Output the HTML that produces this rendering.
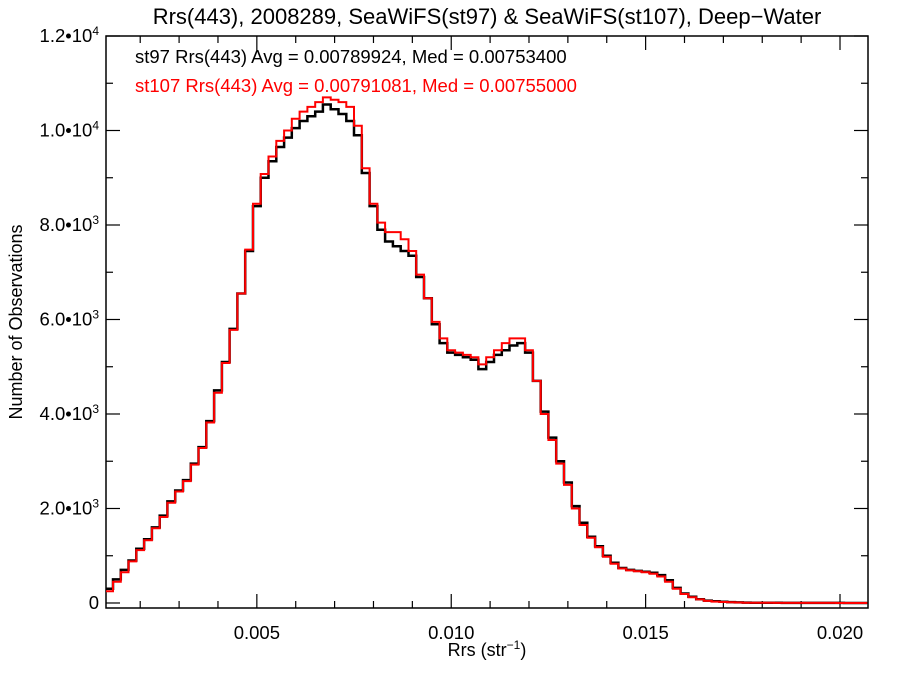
<!DOCTYPE html>
<html><head><meta charset="utf-8"><style>
body{margin:0;background:#fff}
svg{display:block;font-family:"Liberation Sans",sans-serif}
</style></head><body>
<svg id="chart" width="900" height="675">
<text x="487" y="24" font-size="22" text-anchor="middle">Rrs(443), 2008289, SeaWiFS(st97) &amp; SeaWiFS(st107), Deep−Water</text>
<text x="135" y="63" font-size="18.5">st97 Rrs(443) Avg = 0.00789924, Med = 0.00753400</text>
<text x="135" y="92" font-size="18.5" fill="#ff0000">st107 Rrs(443) Avg = 0.00791081, Med = 0.00755000</text>
<text x="487" y="656" font-size="18" text-anchor="middle">Rrs (str<tspan font-size="12" dy="-7">−1</tspan><tspan dy="7">)</tspan></text>
<text transform="translate(22,322) rotate(-90)" font-size="18" text-anchor="middle">Number of Observations</text>
<g id="axes"></g>
<g id="series"></g>
</svg>
<script>
const binStart = 0.0011;
const binWidth = 0.0002;
const st97 = [300,500,700,900,1150,1350,1600,1850,2150,2380,2600,2950,3300,3850,4500,5100,5800,6550,7450,8400,9000,9350,9650,9850,10050,10200,10300,10400,10550,10450,10350,10200,9900,9100,8400,7900,7650,7550,7450,7350,6900,6450,5900,5500,5300,5250,5200,5150,4950,5100,5250,5350,5450,5500,5300,4700,4050,3500,3000,2550,2050,1700,1400,1200,1000,850,740,700,680,660,640,590,480,320,200,130,80,50,35,25,18,12,8,6,4,3,3,2,2,2,1,1,1,1,1,0,0,0];
const st107 = [250,450,650,880,1120,1330,1580,1820,2120,2360,2580,2930,3280,3820,4450,5080,5780,6550,7480,8450,9080,9450,9780,10000,10250,10400,10500,10600,10700,10650,10600,10500,10100,9200,8450,8050,7850,7850,7700,7450,6950,6450,5950,5600,5350,5300,5250,5200,5050,5200,5350,5500,5600,5600,5350,4700,4000,3450,2950,2500,2000,1650,1380,1180,980,830,730,690,670,650,620,560,450,300,190,120,75,45,30,20,15,10,7,5,3,3,2,2,2,1,1,1,1,1,0,0,0,0];
const xTicks = [0.005,0.010,0.015,0.020];
const xTickLabels = ["0.005","0.010","0.015","0.020"];
const yTicks = [0,2000,4000,6000,8000,10000,12000];
const yTickLabels = ["0","2.0•10<tspan font-size='12' dy='-7'>3</tspan>","4.0•10<tspan font-size='12' dy='-7'>3</tspan>","6.0•10<tspan font-size='12' dy='-7'>3</tspan>","8.0•10<tspan font-size='12' dy='-7'>3</tspan>","1.0•10<tspan font-size='12' dy='-7'>4</tspan>","1.2•10<tspan font-size='12' dy='-7'>4</tspan>"];

const L=106,R=868,T=36,B=608;
const xMin=0.00112,xMax=0.02072;
const yMin=-106,yMax=12000;
const sx=v=>L+(v-xMin)/(xMax-xMin)*(R-L);
const sy=v=>B-(v-yMin)/(yMax-yMin)*(B-T);
const NS="http://www.w3.org/2000/svg";
const axes=document.getElementById('axes');
function mk(tag,attrs,parent){const e=document.createElementNS(NS,tag);for(const k in attrs)e.setAttribute(k,attrs[k]);parent.appendChild(e);return e;}
const frame=mk('rect',{x:L,y:T,width:R-L,height:B-T,fill:'none',stroke:'#000','stroke-width':1.5},axes);


for(let m=0.002;m<=0.0205;m+=0.001){
  const major=xTicks.some(t=>Math.abs(t-m)<1e-6);
  const len=major?14:7;const x=sx(m);
  const t1=mk('line',{x1:x,x2:x,y1:B,y2:B-len,stroke:'#000','stroke-width':1.2},axes);
  
  
  const t2=mk('line',{x1:x,x2:x,y1:T,y2:T+len,stroke:'#000','stroke-width':1.2},axes);
  
  
}
xTicks.forEach((t,i)=>{
  const tx=mk('text',{x:sx(t),y:639,'font-size':18.5,'text-anchor':'middle'},axes);
  tx.textContent=xTickLabels[i];
  
  
});
for(let m=0;m<=12000;m+=1000){
  const major=m%2000===0;const len=major?14:7;const y=sy(m);
  const t1=mk('line',{x1:L,x2:L+len,y1:y,y2:y,stroke:'#000','stroke-width':1.2},axes);
  
  
  const t2=mk('line',{x1:R,x2:R-len,y1:y,y2:y,stroke:'#000','stroke-width':1.2},axes);
  
  
}
yTicks.forEach((t,i)=>{
  const tx=mk('text',{x:99,y:sy(t)+6,'font-size':18.5,'text-anchor':'end'},axes);
  tx.innerHTML=yTickLabels[i];
  
  
});
const series=document.getElementById('series');
function stepPath(vals){
  let d='';
  vals.forEach((v,i)=>{
    const x0=sx(Math.max(binStart+i*binWidth,xMin)),x1=sx(Math.min(binStart+(i+1)*binWidth,xMax));const y=sy(v);
    d+=(i===0?'M':'L')+x0.toFixed(1)+','+y.toFixed(1)+'L'+x1.toFixed(1)+','+y.toFixed(1);
  });
  return d;
}
const p1=mk('path',{d:stepPath(st97),fill:'none',stroke:'#000','stroke-width':2.5},series);


const p2=mk('path',{d:stepPath(st107),fill:'none',stroke:'#ff0000','stroke-width':2},series);


</script>
</body></html>
